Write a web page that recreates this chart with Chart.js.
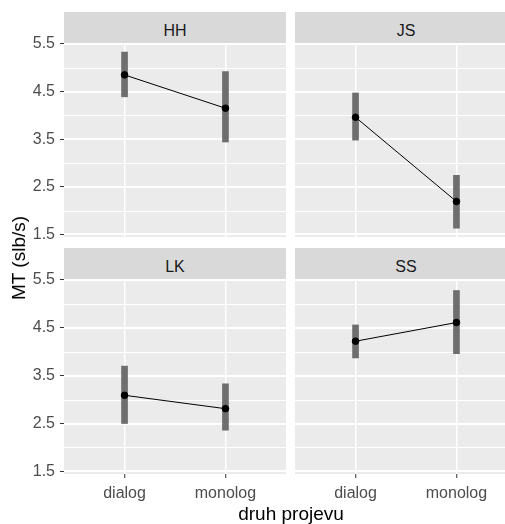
<!DOCTYPE html>
<html>
<head>
<meta charset="utf-8">
<script src="https://cdn.jsdelivr.net/npm/chart.js@4.4.1/dist/chart.umd.min.js"></script>
<style>
  html, body { margin: 0; padding: 0; width: 505px; height: 524px; overflow: hidden; background: #fff; }
  body { position: relative; font-family: 'Liberation Sans', Arial, sans-serif; }
  .box { position: absolute; }
  .strip { position: absolute; background: #d9d9d9; color: #1a1a1a; font-size: 16px; text-align: center; height: 31px; line-height: 37px; }
  .ytitle { position: absolute; left: 19px; top: 258px; transform: translate(-50%, -50%) rotate(-90deg); font-size: 19px; white-space: nowrap; color: #000; }
  .xtitle { position: absolute; left: 291px; top: 504px; transform: translateX(-50%); font-size: 19px; line-height: 19px; white-space: nowrap; color: #000; }
</style>
</head>
<body>
<div class="box" id="b0"><canvas id="c0"></canvas></div>
<div class="box" id="b1"><canvas id="c1"></canvas></div>
<div class="box" id="b2"><canvas id="c2"></canvas></div>
<div class="box" id="b3"><canvas id="c3"></canvas></div>
<div class="ytitle">MT (slb/s)</div>
<div class="xtitle">druh projevu</div>
<script>
// data
const panels = ["HH", "JS", "LK", "SS"];
const categories = ["dialog", "monolog"];
const means = [[4.85, 4.15], [3.96, 2.19], [3.09, 2.81], [4.22, 4.61]];
const lower = [[4.39, 3.44], [3.48, 1.63], [2.50, 2.36], [3.87, 3.96]];
const upper = [[5.33, 4.92], [4.47, 2.74], [3.70, 3.33], [4.56, 5.28]];
const yMajorTicks = [1.5, 2.5, 3.5, 4.5, 5.5];
const yMinorTicks = [2, 3, 4, 5];

Chart.defaults.font.family = "'Liberation Sans', Arial, sans-serif";
Chart.defaults.animation = false;

// where each panel goes on the page
const layout = [
  { left: 0,   top: 28,  w: 286, h: 224, showY: true,  showX: false, pad: { top: 15, bottom: 15, left: 0,  right: 0 } },
  { left: 285, top: 28,  w: 240, h: 224, showY: false, showX: false, pad: { top: 15, bottom: 15, left: 10, right: 8 } },
  { left: 0,   top: 264, w: 286, h: 241, showY: true,  showX: true,  pad: { top: 15, bottom: 0,  left: 0,  right: 0 } },
  { left: 285, top: 264, w: 240, h: 241, showY: false, showX: true,  pad: { top: 15, bottom: 0,  left: 10, right: 8 } }
];

// grey panel plus white horizontal grid (placed with the y scale)
const panelBg = {
  id: "panelBg",
  beforeDraw(chart) {
    const a = chart.chartArea;
    const ctx = chart.ctx;
    ctx.save();
    ctx.fillStyle = "#ebebeb";
    ctx.fillRect(a.left, a.top, a.right - a.left, a.bottom - a.top);
    ctx.restore();
  },
  beforeDatasetsDraw(chart) {
    const a = chart.chartArea;
    const ys = chart.scales.y;
    const ctx = chart.ctx;
    ctx.save();
    ctx.fillStyle = "#ffffff";
    yMinorTicks.forEach(v => {
      const py = Math.round(ys.getPixelForValue(v));
      ctx.fillRect(a.left, py, a.right - a.left, 1);
    });
    yMajorTicks.forEach(v => {
      const py = Math.round(ys.getPixelForValue(v));
      ctx.fillRect(a.left, py - 1, a.right - a.left, 2);
    });
    ctx.restore();
  }
};

panels.forEach((name, p) => {
  const L = layout[p];
  const box = document.getElementById("b" + p);
  box.style.left = L.left + "px";
  box.style.top = L.top + "px";
  const cv = document.getElementById("c" + p);
  cv.width = L.w;
  cv.height = L.h;

  // strip above the panel
  const strip = document.createElement("div");
  strip.className = "strip";
  strip.textContent = name;
  const stripLeft = L.left + L.pad.left + (L.showY ? 64 : 0);
  const stripRight = L.left + L.w - L.pad.right;
  strip.style.left = stripLeft + "px";
  strip.style.width = (stripRight - stripLeft) + "px";
  strip.style.top = (L.top + L.pad.top - 31) + "px";
  document.body.appendChild(strip);

  new Chart(cv, {
    type: "bar",
    data: {
      datasets: [
        {
          type: "line",
          data: categories.map((c, i) => ({ x: i + 1, y: means[p][i] })),
          borderColor: "#000",
          borderWidth: 1,
          pointRadius: 3.3,
          pointBackgroundColor: "#000",
          pointBorderColor: "#000",
          order: 0
        },
        {
          type: "bar",
          data: categories.map((c, i) => ({ x: i + 1, y: [lower[p][i], upper[p][i]] })),
          backgroundColor: "#6e6e6e",
          borderWidth: 0,
          barThickness: 6,
          order: 1
        }
      ]
    },
    options: {
      responsive: false,
      layout: { padding: L.pad, autoPadding: false },
      plugins: { legend: { display: false }, tooltip: { enabled: false } },
      scales: {
        x: {
          type: "linear",
          min: 0.4,
          max: 2.6,
          offset: false,
          border: { display: false },
          grid: { offset: false, color: "#fff", lineWidth: 1.5, drawTicks: L.showX, tickLength: 4, tickColor: "#333", tickWidth: 1 },
          ticks: {
            display: L.showX,
            autoSkip: false,
            maxRotation: 0,
            padding: 6,
            color: "#4d4d4d",
            font: { size: 16 },
            callback: v => categories[Math.round(v) - 1]
          },
          afterBuildTicks: s => { s.ticks = categories.map((c, i) => ({ value: i + 1 })); },
          afterFit: s => { s.height = L.showX ? 31 : 0; }
        },
        y: {
          type: "linear",
          min: 1.445,
          max: 5.52,
          border: { display: false },
          grid: { drawOnChartArea: false, color: "#fff", drawTicks: L.showY, tickLength: 4, tickWidth: 1, tickColor: "#333" },
          ticks: {
            display: L.showY,
            autoSkip: false,
            padding: 5,
            color: "#4d4d4d",
            font: { size: 16 },
            callback: v => v.toFixed(1)
          },
          afterBuildTicks: s => { s.ticks = yMajorTicks.map(v => ({ value: v })); },
          afterFit: s => { s.width = L.showY ? 64 : 0; }
        }
      }
    },
    plugins: [panelBg]
  });
});
</script>
</body>
</html>
